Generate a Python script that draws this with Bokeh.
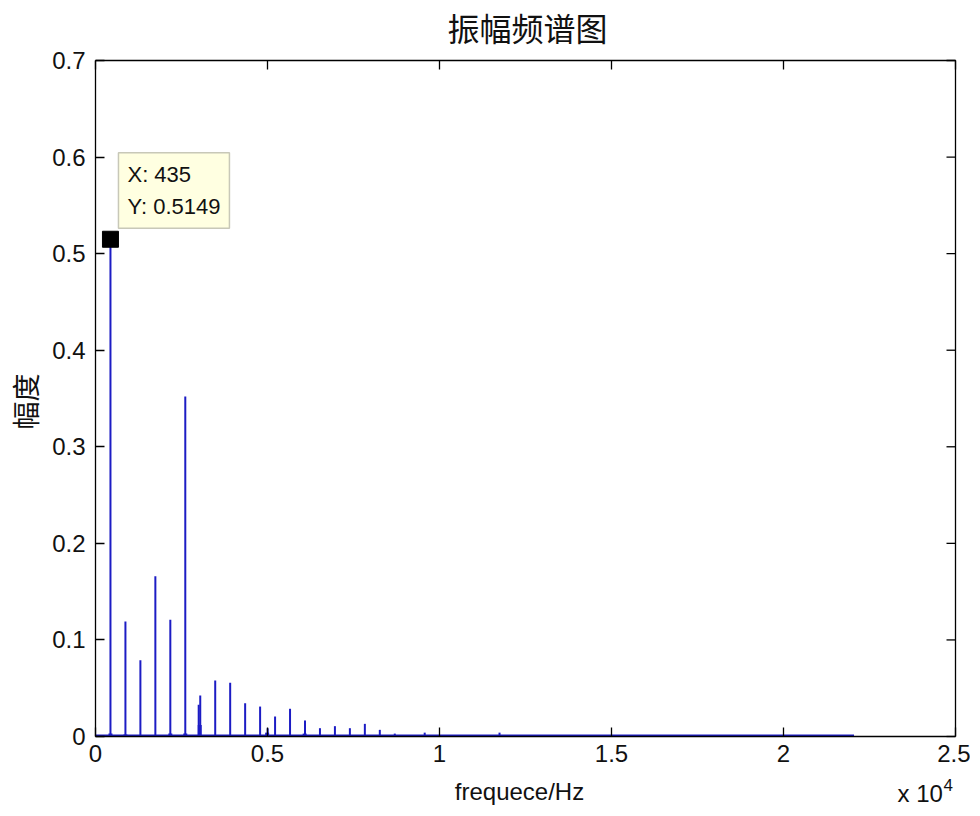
import math
from bokeh.plotting import figure
from bokeh.models import Range1d, FixedTicker, Label
from bokeh.embed import file_html
from bokeh.resources import INLINE

# ---- data ----
harm_freq = [435, 870, 1305, 1740, 2175, 2610, 3000, 3045, 3480, 3915, 4350,
             4785, 5005, 5220, 5655, 6090, 6525, 6960, 7395, 7830, 8265,
             8700, 9570, 11745]
harm_amp = [0.5149, 0.119, 0.079, 0.166, 0.121, 0.352, 0.033, 0.0425, 0.058,
            0.0556, 0.0345, 0.031, 0.0085, 0.0207, 0.0287, 0.0166, 0.0086,
            0.0107, 0.0086, 0.0131, 0.0069, 0.003, 0.004, 0.004]
leak_freq = [435, 870, 2175, 2610, 3030, 4990, 6080]
leak_amp = [0.003, 0.002, 0.003, 0.003, 0.012, 0.004, 0.003]
noise_freq = [0, 22050]
noise_amp = [0.0009, 0.0009]
peak_f = 435
peak_a = 0.5149

x_ticks = [0, 5000, 10000, 15000, 20000, 25000]
x_tick_labels = ["0", "0.5", "1", "1.5", "2", "2.5"]
y_ticks = [0, 0.1, 0.2, 0.3, 0.4, 0.5, 0.6, 0.7]
y_tick_labels = ["0", "0.1", "0.2", "0.3", "0.4", "0.5", "0.6", "0.7"]
x_limits = (0, 25000)
y_limits = (0, 0.7)

title_text = "振幅频谱图"
x_label = "frequece/Hz"
y_label = "幅度"
exp_base = "x 10"
exp_power = "4"

FONT = "Liberation Sans"
CJK = "Noto Sans CJK SC"
BLUE = "#1c1cc4"
INK = "#111111"

# layout in pixels: the axes box, and the room around it inside the frame
W = 970
BOX_W, BOX_H = 860, 676
LEFT = 95
RIGHT = W - LEFT - BOX_W
TITLE_H = 42
TOP_PAD = 10
BOTTOM = 800 - TITLE_H - TOP_PAD - BOX_H
TICK = 9
LW = 1.3

x_span = x_limits[1] - x_limits[0]
y_span = y_limits[1] - y_limits[0]
xpx = BOX_W / x_span
ypx = BOX_H / y_span

p = figure(frame_width=W, frame_height=BOX_H + BOTTOM + TOP_PAD,
           x_range=Range1d(x_limits[0] - LEFT / xpx, x_limits[1] + RIGHT / xpx),
           y_range=Range1d(y_limits[0] - BOTTOM / ypx, y_limits[1] + TOP_PAD / ypx),
           output_backend="svg", toolbar_location=None,
           min_border_left=0, min_border_right=0,
           min_border_top=TITLE_H, min_border_bottom=0)

p.xgrid.visible = False
p.ygrid.visible = False
p.outline_line_color = None
p.background_fill_color = "white"
p.border_fill_color = "white"

p.title.text = title_text
p.title.text_font = CJK
p.title.text_font_size = "32px"
p.title.text_font_style = "normal"
p.title.align = "left"
p.title.offset = 447
p.title.text_color = INK
p.title.standoff = 2

xa = p.below[0]
ya = p.left[0]


def style(ax, ticks, labels):
    ax.ticker = FixedTicker(ticks=ticks)
    ax.major_label_overrides = {t: l for t, l in zip(ticks, labels)}
    ax.major_tick_in = TICK
    ax.major_tick_out = 0
    ax.minor_tick_line_color = None
    ax.axis_line_color = "black"
    ax.axis_line_width = LW
    ax.major_tick_line_color = "black"
    ax.major_tick_line_width = LW
    ax.major_label_text_font = FONT
    ax.major_label_text_color = INK
    ax.major_label_text_font_size = "24px"


style(xa, x_ticks, x_tick_labels)
style(ya, y_ticks, y_tick_labels)
xa.fixed_location = y_limits[0]
ya.fixed_location = x_limits[0]
xa.bounds = x_limits
ya.bounds = y_limits
xa.major_label_standoff = 8
ya.major_label_standoff = 10

# axis titles
p.add_layout(Label(x=(x_limits[0] + x_limits[1]) / 2, y=y_limits[0],
                   x_offset=-6, y_offset=-55, text=x_label,
                   text_font=FONT, text_font_size="24px", text_color=INK,
                   text_align="center", text_baseline="alphabetic"))
p.add_layout(Label(x=x_limits[0], y=(y_limits[0] + y_limits[1]) / 2,
                   x_offset=-71, y_offset=-3, text=y_label, angle=math.pi / 2,
                   text_font=CJK, text_font_size="28px", text_color=INK,
                   text_align="center", text_baseline="middle"))

# top and right edges of the box, with inward ticks
p.line(x=[x_limits[0], x_limits[1], x_limits[1]],
       y=[y_limits[1], y_limits[1], y_limits[0]],
       line_color="black", line_width=LW)
dy = TICK / ypx
dx = TICK / xpx
p.segment(x0=x_ticks, y0=[y_limits[1]] * len(x_ticks),
          x1=x_ticks, y1=[y_limits[1] - dy] * len(x_ticks),
          line_color="black", line_width=LW)
p.segment(x0=[x_limits[1]] * len(y_ticks), y0=y_ticks,
          x1=[x_limits[1] - dx] * len(y_ticks), y1=y_ticks,
          line_color="black", line_width=LW)

# spectrum
p.line(x=noise_freq, y=noise_amp, line_color=BLUE, line_width=2.5)
p.segment(x0=harm_freq, y0=[0] * len(harm_freq), x1=harm_freq, y1=harm_amp,
          line_color=BLUE, line_width=2)
p.segment(x0=leak_freq, y0=[0] * len(leak_freq), x1=leak_freq, y1=leak_amp,
          line_color=BLUE, line_width=4)

# data tip marker
p.scatter(x=[peak_f], y=[peak_a], marker="square", size=16,
          fill_color="black", line_color="black")
tip = Label(x=peak_f, y=peak_a, x_offset=8, y_offset=11,
            text=f"X: {peak_f}\nY: {peak_a}",
            anchor="bottom_left",
            text_font=FONT, text_font_size="22px", text_color=INK,
            text_line_height=1.3,
            background_fill_color="#ffffe1",
            border_line_color="#c8c8b8", border_line_width=1.5,
            padding=9)
p.add_layout(tip)

# x-axis exponent, under the right end of the axis
p.add_layout(Label(x=x_limits[1], y=y_limits[0], x_offset=-58, y_offset=-57,
                   text=exp_base, text_font=FONT, text_font_size="24px",
                   text_color=INK, text_baseline="alphabetic",
                   text_align="left"))
p.add_layout(Label(x=x_limits[1], y=y_limits[0], x_offset=-12, y_offset=-48,
                   text=exp_power, text_font=FONT, text_font_size="17px",
                   text_color=INK, text_baseline="alphabetic",
                   text_align="left"))

open("out.html", "w").write(file_html(p, INLINE))
